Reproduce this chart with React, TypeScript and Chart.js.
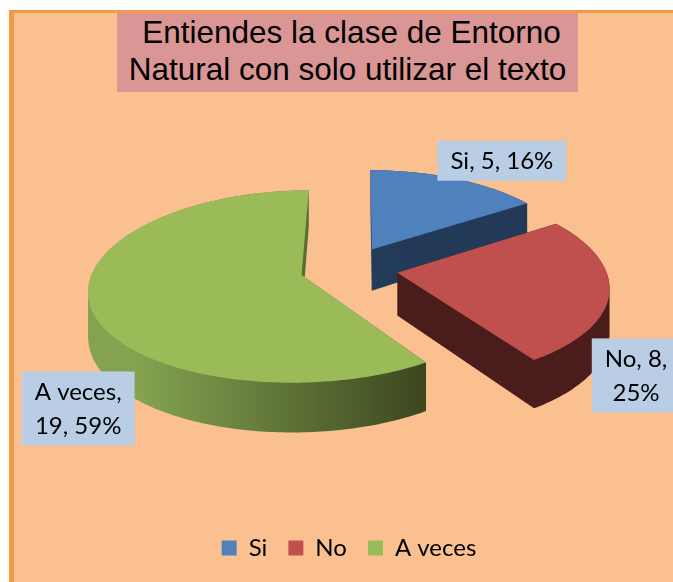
import React, { useEffect, useRef } from "react";
import { Chart, registerables } from "chart.js";

Chart.register(...registerables);

// ---- data ----
const TITLE_LINES = ["Entiendes la clase de Entorno", "Natural con solo utilizar el texto"];
const CATEGORIES = ["Si", "No", "A veces"];
const VALUES = [5, 8, 19];

// ---- styles ----
const TOP_COLORS = ["#4F81BD", "#C0504D", "#9BBB59"];
const SIDE_COLORS: [string, string][] = [
  ["#2A4566", "#223A58"],
  ["#531F1F", "#4A1C1C"],
  ["#84A250", "#3C4820"],
];
const BG = "#FAC090";
const BORDER = "#F79646";
const TITLE_BG = "#D99694";
const LABEL_BG = "#B9CDE5";
const LABEL_FONT = "Lato";
const LABEL_SIZE = 24;
const LEGEND_SIZE = 24;
const LABEL_LINE = 34;
const LABEL_PAD_X = 13;
const LABEL_PAD_Y = 3;
// label box centres, in units of the pie radius from the pie centre
const LABEL_POS: [number, number][] = [
  [0.735, -0.518],
  [1.38, 0.514],
  [-1.302, 0.673],
];
// max text width before a label wraps, in units of the pie radius
const LABEL_WRAP = [0.65, 0.38, 0.5];

// 3D view parameters (relative to the pie radius)
const TILT = 0.448;
const PERSPECTIVE = 0.12;
const PERSPECTIVE_X = 0.14;
const VIEW_X = 0.053;
const EXPLODE = 49 / 208;
const DEPTH = 42.5 / 208;
const DEPTH_PERSPECTIVE = 0.16;

type Pt = [number, number, number];

function project(cx: number, cy: number, R: number, u: number, v: number): Pt {
  const s = 1 / (1 - (PERSPECTIVE * v) / R);
  const sx = 1 / (1 - (PERSPECTIVE_X * v) / R);
  const vx = VIEW_X * R;
  const d = R * DEPTH * (1 + (DEPTH_PERSPECTIVE * v) / R);
  return [cx + vx + (u - vx) * sx, cy + v * TILT * s, d];
}

function addPoly(ctx: CanvasRenderingContext2D, pts: number[][]) {
  let area = 0;
  for (let k = 0; k < pts.length; k++) {
    const a = pts[k];
    const b = pts[(k + 1) % pts.length];
    area += a[0] * b[1] - b[0] * a[1];
  }
  const list = area < 0 ? pts.slice().reverse() : pts;
  ctx.moveTo(list[0][0], list[0][1]);
  for (let k = 1; k < list.length; k++) ctx.lineTo(list[k][0], list[k][1]);
  ctx.closePath();
}

const pie3d = {
  id: "pie3d",
  beforeDatasetsDraw(chart: any) {
    const ctx: CanvasRenderingContext2D = chart.ctx;
    const arcs: any[] = chart.getDatasetMeta(0).data;
    const mid = (a: any) => (a.startAngle + a.endAngle) / 2;
    const order = arcs.map((_, i) => i).sort((i, j) => Math.sin(mid(arcs[i])) - Math.sin(mid(arcs[j])));
    ctx.save();
    for (const i of order) {
      const arc = arcs[i];
      const { x: cx, y: cy, startAngle: a0, endAngle: a1, outerRadius: R } = arc;
      const m = mid(arc);
      const ox = Math.cos(m) * R * EXPLODE;
      const oy = Math.sin(m) * R * EXPLODE;
      const plane: [number, number][] = [[ox, oy]];
      const n = Math.max(2, Math.ceil((a1 - a0) / (Math.PI / 180)));
      for (let k = 0; k <= n; k++) {
        const t = a0 + ((a1 - a0) * k) / n;
        plane.push([ox + R * Math.cos(t), oy + R * Math.sin(t)]);
      }
      const top = plane.map(([u, v]) => project(cx, cy, R, u, v));
      const bot = top.map(([x, y, d]) => [x, y + d, d]);
      ctx.beginPath();
      addPoly(ctx, bot);
      for (let k = 0; k < top.length; k++) {
        const k2 = (k + 1) % top.length;
        addPoly(ctx, [top[k], top[k2], bot[k2], bot[k]]);
      }
      const g = ctx.createLinearGradient(cx - R, 0, cx + R * 0.35, 0);
      g.addColorStop(0, SIDE_COLORS[i][0]);
      g.addColorStop(1, SIDE_COLORS[i][1]);
      ctx.fillStyle = g;
      ctx.fill();
      ctx.beginPath();
      addPoly(ctx, top);
      ctx.fillStyle = TOP_COLORS[i];
      ctx.fill();
    }
    ctx.restore();
    return false;
  },
  afterDraw(chart: any) {
    const ctx: CanvasRenderingContext2D = chart.ctx;
    const arcs: any[] = chart.getDatasetMeta(0).data;
    if (!arcs.length) return;
    const { x: cx, y: cy, outerRadius: R } = arcs[0];
    const total = VALUES.reduce((a, b) => a + b, 0);
    ctx.save();
    ctx.font = `${LABEL_SIZE}px ${LABEL_FONT}`;
    ctx.textAlign = "center";
    ctx.textBaseline = "middle";
    CATEGORIES.forEach((cat, i) => {
      const pct = Math.round((VALUES[i] / total) * 100);
      const words = `${cat}, ${VALUES[i]}, ${pct}%`.split(" ");
      const maxW = LABEL_WRAP[i] * R;
      const lines: string[] = [];
      let cur = "";
      for (const w of words) {
        const t = cur ? cur + " " + w : w;
        if (cur && ctx.measureText(t).width > maxW) {
          lines.push(cur);
          cur = w;
        } else cur = t;
      }
      if (cur) lines.push(cur);
      const tw = Math.max(...lines.map((l) => ctx.measureText(l).width));
      const bw = tw + LABEL_PAD_X * 2;
      const bh = lines.length * LABEL_LINE + LABEL_PAD_Y * 2;
      const bx = cx + LABEL_POS[i][0] * R;
      const by = cy + LABEL_POS[i][1] * R;
      ctx.fillStyle = LABEL_BG;
      ctx.fillRect(bx - bw / 2, by - bh / 2, bw, bh);
      ctx.fillStyle = "#000";
      lines.forEach((l, k) => {
        ctx.fillText(l, bx, by - bh / 2 + LABEL_PAD_Y + LABEL_LINE * (k + 0.5) + 1);
      });
    });
    ctx.restore();
  },
};

export default function App() {
  const ref = useRef<HTMLCanvasElement>(null);
  useEffect(() => {
    if (!ref.current) return;
    const chart = new Chart(ref.current, {
      type: "pie",
      data: {
        labels: CATEGORIES,
        datasets: [{ data: VALUES, backgroundColor: TOP_COLORS, borderWidth: 0 }],
      },
      options: {
        responsive: false,
        animation: false,
        layout: { padding: { left: 127, right: 116, top: 9, bottom: 12 } },
        plugins: {
          legend: {
            position: "bottom",
            labels: {
              boxWidth: 15,
              boxHeight: 15,
              padding: 21,
              color: "#000",
              font: { family: LABEL_FONT, size: LEGEND_SIZE },
            },
          },
          title: { display: false },
          tooltip: { enabled: false },
        },
      } as any,
      plugins: [pie3d as any],
    });
    return () => chart.destroy();
  }, []);
  return (
    <div
      style={{
        position: "absolute",
        left: 9,
        top: 10,
        width: 659,
        height: 569,
        background: BG,
        borderTop: `3px solid ${BORDER}`,
        borderLeft: `5px solid ${BORDER}`,
      }}
    >
      <canvas ref={ref} width={659} height={569} style={{ display: "block" }} />
      <div
        style={{
          position: "absolute",
          left: 103,
          top: 0,
          width: 461,
          height: 79,
          boxSizing: "border-box",
          paddingTop: 1,
          background: TITLE_BG,
          fontFamily: "'Liberation Sans', Arial, sans-serif",
          fontSize: 31.5,
          lineHeight: "37px",
          textAlign: "center",
          color: "#000",
          whiteSpace: "nowrap",
        }}
      >
        {TITLE_LINES.map((l, i) => (
          <div key={i} style={{ paddingLeft: i === 0 ? 8 : 0 }}>
            {l}
          </div>
        ))}
      </div>
    </div>
  );
}
